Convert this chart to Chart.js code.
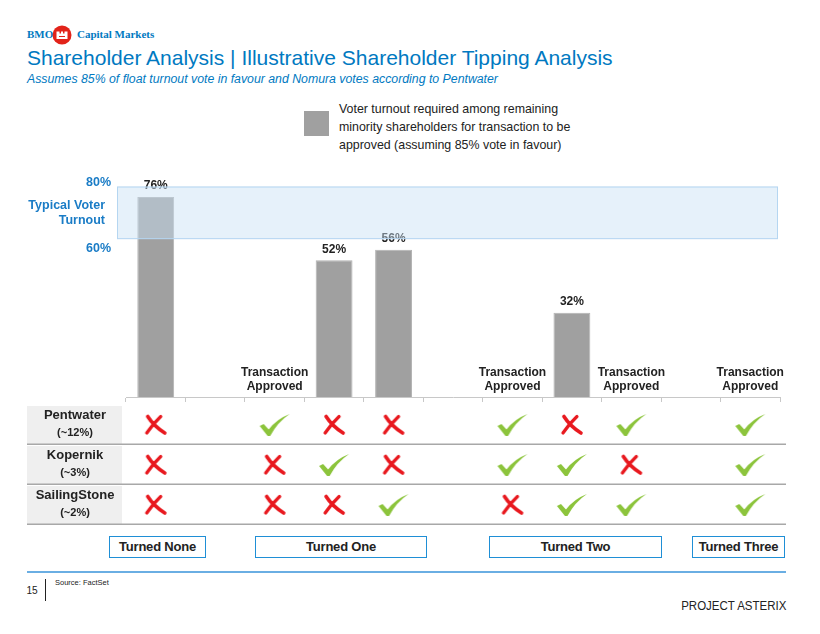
<!DOCTYPE html>
<html>
<head>
<meta charset="utf-8">
<script src="https://cdn.jsdelivr.net/npm/chart.js@4.4.1/dist/chart.umd.min.js"></script>
<style>
  html, body { margin: 0; padding: 0; background: #fff; }
  body { width: 820px; height: 634px; position: relative; overflow: hidden; font-family: "Liberation Sans", Arial, sans-serif; color: #222; }
  .abs { position: absolute; white-space: nowrap; }
  .logo { font-family: "Liberation Serif", "Times New Roman", serif; font-weight: bold; font-size: 11px; line-height: 11px; color: #0079c1; }
  .title { left: 27px; top: 47px; font-size: 21px; line-height: 21px; color: #0079c1; }
  .subtitle { left: 27px; top: 73px; font-size: 12.3px; line-height: 12px; font-style: italic; color: #0079c1; }
  .legend-box { left: 304px; top: 111px; width: 25px; height: 25px; background: #a0a0a0; }
  .legend-text { left: 339px; top: 100px; font-size: 12.4px; line-height: 18px; color: #222; }
  .turned { position: absolute; top: 536px; height: 20px; border: 1.5px solid #1f8fd6; box-sizing: content-box;
            font-weight: bold; font-size: 13px; line-height: 20px; text-align: center; color: #222; letter-spacing: -0.2px; }
  .rule { left: 27px; top: 571px; width: 759px; height: 2px; background: #6aaee3; }
  .squeeze { transform: scaleX(0.92); }
  canvas { position: absolute; left: 0; }
</style>
</head>
<body>
<div class="abs logo" style="left:27px; top:29px;">BMO</div>
<svg class="abs" style="left:52px; top:25px;" width="20" height="20" viewBox="-10 -10 20 20">
  <circle cx="0" cy="0" r="9.5" fill="#e2231a"/>
  <path d="M-5.5,4 L-5.5,-3.5 L-2.5,-3.5 L-2.5,-1.5 L-1,-1.5 L-1,-3.5 L1,-3.5 L1,-1.5 L2.5,-1.5 L2.5,-3.5 L5.5,-3.5 L5.5,4 Z M-3,1 L3,1 L3,2 L-3,2 Z" fill="#fff" fill-rule="evenodd"/>
</svg>
<div class="abs logo" style="left:77px; top:29px;">Capital Markets</div>

<div class="abs title">Shareholder Analysis | Illustrative Shareholder Tipping Analysis</div>
<div class="abs subtitle">Assumes 85% of float turnout vote in favour and Nomura votes according to Pentwater</div>

<div class="abs legend-box"></div>
<div class="abs legend-text">Voter turnout required among remaining<br>minority shareholders for transaction to be<br>approved (assuming 85% vote in favour)</div>

<canvas id="bars" width="820" height="240" style="top:170px;"></canvas>
<canvas id="votes" width="820" height="130" style="top:400px;"></canvas>

<div id="groups"></div>

<div class="abs rule"></div>
<div class="abs squeeze" style="left:26px; top:585px; font-size:11px; line-height:11px;">15</div>
<div class="abs" style="left:45px; top:579px; width:1px; height:22px; background:#222;"></div>
<div class="abs" style="left:55px; top:579px; font-size:7.5px; line-height:8px;">Source: FactSet</div>
<div class="abs squeeze" style="right:34px; top:600px; font-size:12.5px; line-height:12px; transform-origin: right center;">PROJECT ASTERIX</div>

<script>
// columns of the analysis: which shareholders turn in favour (blank ones are spacers)
const columns = ['None', ' ', 'Pentwater', 'Kopernik', 'SailingStone', '  ',
                 'Pentwater + Kopernik', 'Kopernik + SailingStone', 'Pentwater + SailingStone', '   ', 'All three'];
// voter turnout required (%), null where the transaction is approved or column is blank
const turnoutRequired = [76, null, null, 52, 56, null, null, 32, null, null, null];
const approved = [false, false, true, false, false, false, true, false, true, false, true];
const turnoutBand = [60, 80];

const holders = ['Pentwater', 'Kopernik', 'SailingStone'];
const holdings = ['(~12%)', '(~3%)', '(~2%)'];
// v = votes in favour, x = against, '' = blank column
const pentwaterVotes = ['x', '', 'v', 'x', 'x', '', 'v', 'x', 'v', '', 'v'];
const kopernikVotes = ['x', '', 'x', 'v', 'x', '', 'v', 'v', 'x', '', 'v'];
const sailingStoneVotes = ['x', '', 'x', 'x', 'v', '', 'x', 'v', 'v', '', 'v'];

const groupNames = ['Turned None', 'Turned One', 'Turned Two', 'Turned Three'];
const groupLeft = [109, 255, 489, 692];
const groupRight = [207, 428, 663, 786];

const BLUE = '#1a7cc6';
const FONT = '"Liberation Sans", Arial, sans-serif';

// turned boxes
const groupsEl = document.getElementById('groups');
groupNames.forEach((name, i) => {
    const d = document.createElement('div');
    d.className = 'turned';
    d.style.left = groupLeft[i] + 'px';
    d.style.width = (groupRight[i] - groupLeft[i] - 3) + 'px';
    d.textContent = name;
    groupsEl.appendChild(d);
});

// check and cross marks
function makeCheck() {
    const c = document.createElement('canvas');
    c.width = 32; c.height = 24;
    const g = c.getContext('2d');
    g.fillStyle = '#8cc43c';
    g.beginPath();
    g.moveTo(1, 13);
    g.lineTo(5, 11);
    g.lineTo(10, 16.5);
    g.quadraticCurveTo(18, 6, 31, 1);
    g.quadraticCurveTo(19, 9, 11.5, 23);
    g.lineTo(9, 23);
    g.closePath();
    g.fill();
    return c;
}
function makeCross() {
    const c = document.createElement('canvas');
    c.width = 24; c.height = 22;
    const g = c.getContext('2d');
    g.strokeStyle = '#e8191f';
    g.lineCap = 'round';
    g.lineWidth = 3.6;
    g.beginPath();
    g.moveTo(4, 2.5); g.quadraticCurveTo(10, 12, 21, 19);
    g.stroke();
    g.lineWidth = 3.2;
    g.beginPath();
    g.moveTo(17, 2.5); g.quadraticCurveTo(9, 10, 3, 19);
    g.stroke();
    return c;
}

const voteRows = [pentwaterVotes, kopernikVotes, sailingStoneVotes];
const checkPoints = [];
const crossPoints = [];
voteRows.forEach((row, r) => {
    row.forEach((v, i) => {
        if (v === 'v') checkPoints.push({ x: columns[i], y: holders[r] });
        if (v === 'x') crossPoints.push({ x: columns[i], y: holders[r] });
    });
});

const barAnnotations = {
    id: 'barAnnotations',
    afterDatasetsDraw(chart) {
        const { ctx, chartArea, scales: { x, y } } = chart;
        const base = y.getPixelForValue(0);
        ctx.save();
        ctx.fillStyle = '#222';
        ctx.textAlign = 'center';
        ctx.textBaseline = 'middle';
        ctx.font = 'bold 12px ' + FONT;
        turnoutRequired.forEach((v, i) => {
            if (v == null) return;
            ctx.fillText(v + '%', x.getPixelForValue(i), y.getPixelForValue(v) - 11);
        });
        approved.forEach((a, i) => {
            if (!a) return;
            const cx = x.getPixelForValue(i);
            ctx.fillText('Transaction', cx, base - 24);
            ctx.fillText('Approved', cx, base - 10);
        });
        // typical turnout band
        const top = y.getPixelForValue(turnoutBand[1]);
        const bottom = y.getPixelForValue(turnoutBand[0]);
        const left = chartArea.left - 9;
        const right = chartArea.right - 2;
        ctx.fillStyle = 'rgba(200, 225, 245, 0.46)';
        ctx.fillRect(left, top, right - left, bottom - top);
        ctx.strokeStyle = '#b5d6f1';
        ctx.lineWidth = 1;
        ctx.strokeRect(left + 0.5, top + 0.5, right - left - 1, bottom - top - 1);
        // band labels
        ctx.fillStyle = BLUE;
        ctx.font = 'bold 12.5px ' + FONT;
        ctx.textAlign = 'right';
        ctx.fillText(turnoutBand[1] + '%', 111, top - 4);
        ctx.fillText(turnoutBand[0] + '%', 111, bottom + 9);
        const mid = (top + bottom) / 2;
        ctx.fillText('Typical Voter', 105, mid - 7);
        ctx.fillText('Turnout', 105, mid + 8);
        ctx.restore();
    }
};

const rowDecor = {
    id: 'rowDecor',
    beforeDatasetsDraw(chart) {
        const { ctx, chartArea, scales: { y } } = chart;
        const rowH = y.getPixelForValue(1) - y.getPixelForValue(0);
        ctx.save();
        holders.forEach((name, r) => {
            const cy = y.getPixelForValue(r);
            const top = cy - rowH / 2;
            const bottom = cy + rowH / 2;
            ctx.fillStyle = '#efefef';
            ctx.fillRect(27, top + 1, 95, rowH - 2);
            ctx.fillStyle = '#222';
            ctx.textAlign = 'center';
            ctx.textBaseline = 'middle';
            ctx.font = 'bold 13px ' + FONT;
            ctx.fillText(name, 75, cy - 10);
            ctx.font = 'bold 11px ' + FONT;
            ctx.fillText(holdings[r], 75, cy + 8);
            ctx.strokeStyle = '#a8a8a8';
            ctx.lineWidth = 1.5;
            ctx.beginPath();
            ctx.moveTo(27, bottom - 0.75);
            ctx.lineTo(chartArea.right + 6, bottom - 0.75);
            ctx.stroke();
        });
        ctx.restore();
    }
};

new Chart(document.getElementById('bars'), {
    type: 'bar',
    data: {
        labels: columns,
        datasets: [{
            data: turnoutRequired,
            backgroundColor: '#a0a0a0',
            borderColor: '#b2b2b2',
            borderWidth: 1,
            barPercentage: 0.62,
            categoryPercentage: 1
        }]
    },
    options: {
        responsive: false,
        animation: false,
        layout: { padding: { left: 126, right: 40, top: 6, bottom: 8 } },
        plugins: { legend: { display: false }, tooltip: { enabled: false } },
        scales: {
            x: {
                grid: { offset: true, drawOnChartArea: false, tickLength: 5, color: '#c8c8c8' },
                border: { color: '#c8c8c8' },
                ticks: { display: false }
            },
            y: { display: false, min: 0, max: 84 }
        }
    },
    plugins: [barAnnotations]
});

new Chart(document.getElementById('votes'), {
    type: 'line',
    data: {
        labels: columns,
        datasets: [
            { data: checkPoints, pointStyle: makeCheck(), showLine: false },
            { data: crossPoints, pointStyle: makeCross(), showLine: false }
        ]
    },
    options: {
        responsive: false,
        animation: false,
        layout: { padding: { left: 126, right: 40, top: 3, bottom: 3 } },
        plugins: { legend: { display: false }, tooltip: { enabled: false } },
        scales: {
            x: { display: false, offset: true },
            y: { type: 'category', labels: holders, offset: true, display: false }
        }
    },
    plugins: [rowDecor]
});
</script>
</body>
</html>
